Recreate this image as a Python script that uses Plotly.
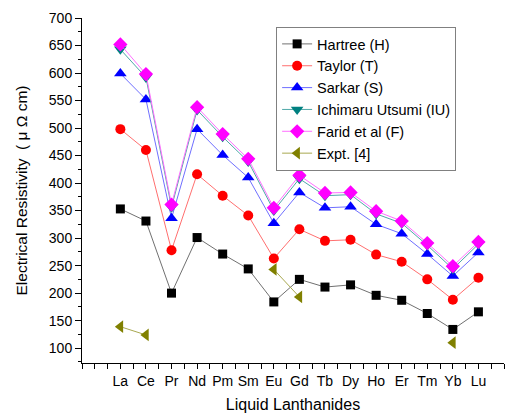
import plotly.graph_objects as go

elements = ["La", "Ce", "Pr", "Nd", "Pm", "Sm", "Eu", "Gd", "Tb", "Dy", "Ho", "Er", "Tm", "Yb", "Lu"]
hartree = [353, 331, 200, 301, 271, 244, 184, 225, 211, 215, 196, 187, 163, 134, 166]
taylor = [498, 460, 278, 416, 377, 341, 263, 316, 295, 297, 270, 257, 225, 188, 228]
sarkar = [599, 552, 336, 498, 451, 410, 327, 383, 355, 357, 325, 308, 271, 231, 274]
ichimaru = [643, 592, 356, 533, 484, 439, 350, 408, 377, 379, 344, 327, 287, 244, 289]
farid = [652, 598, 361, 538, 489, 444, 355, 414, 382, 383, 349, 331, 291, 249, 293]
expt = [139, 124, None, None, None, None, 243, 193, None, None, None, None, None, 110, None]

x = list(range(len(elements)))

series = [
    ("Hartree (H)", hartree, "black", "#707070", "square", 9),
    ("Taylor (T)", taylor, "#ff0000", "#ff6f6f", "circle", 10),
    ("Sarkar (S)", sarkar, "#0000ff", "#6f6fff", "triangle-up", 11),
    ("Ichimaru Utsumi (IU)", ichimaru, "#008080", "#4fa8a8", "triangle-down", 11),
    ("Farid et al (F)", farid, "#ff00ff", "#ff6fff", "diamond", 11),
    ("Expt. [4]", expt, "#808000", "#a8a850", "triangle-left", 11),
]

fig = go.Figure()
for name, vals, mc, lc, sym, sz in series:
    fig.add_trace(go.Scatter(
        x=x, y=vals, name=name, mode="lines+markers",
        line=dict(color=lc, width=1),
        marker=dict(color=mc, symbol=sym, size=sz, line=dict(width=0)),
        connectgaps=False,
    ))

# page body has an 8px default margin, so the figure is sized/offset to fit the window
fig.update_layout(
    width=506, height=407,
    margin=dict(l=74, r=10, t=10, b=52),
    plot_bgcolor="white", paper_bgcolor="white",
    font=dict(family="Liberation Sans, Arial, sans-serif", size=14, color="black"),
    showlegend=True,
    legend=dict(
        x=0.46, y=0.974, xanchor="left", yanchor="top",
        bordercolor="#808080", borderwidth=1, bgcolor="white",
        font=dict(size=14.5), tracegroupgap=0,
    ),
)
fig.update_xaxes(
    range=[-1.5, 15], tickmode="array", tickvals=x, ticktext=elements,
    showline=True, linecolor="black", linewidth=1, automargin=False,
    ticks="outside", ticklen=5, tickcolor="black", showgrid=False, zeroline=False,
    minor=dict(ticks="outside", ticklen=5, tickcolor="black", dtick=0.5, tick0=-1.5, showgrid=False),
    title=dict(text="Liquid Lanthanides", font=dict(size=16), standoff=11),
)
fig.update_yaxes(
    range=[73, 700], tickmode="linear", tick0=100, dtick=50,
    showline=True, linecolor="black", linewidth=1, automargin=False,
    ticks="outside", ticklen=6, tickcolor="black", showgrid=False, zeroline=False,
    minor=dict(ticks="outside", ticklen=3, tickcolor="black", dtick=25, tick0=0, showgrid=False),
    title=dict(text="Electrical Resistivity  ( \u03bc \u03a9 cm)", font=dict(size=15.5), standoff=17),
)

fig.write_html("out.html")
